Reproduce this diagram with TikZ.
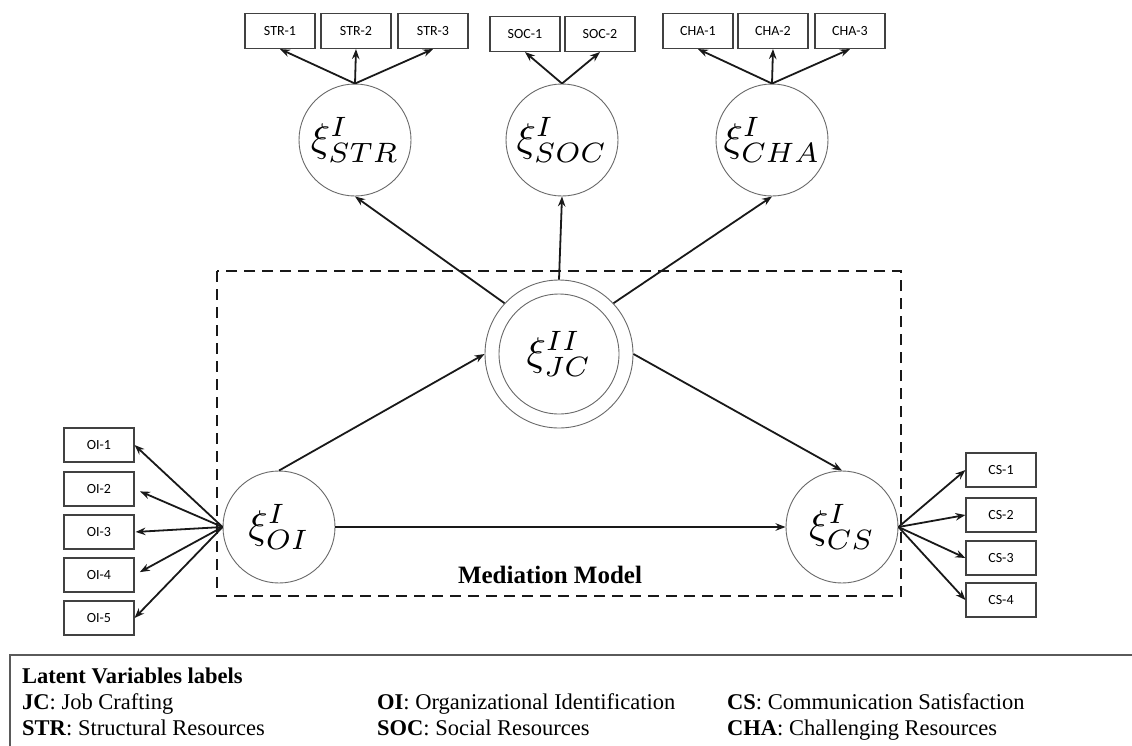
\documentclass[tikz,border=0pt]{standalone}
\usepackage{graphicx}
\usepackage{fontspec}
\setmainfont{Liberation Serif}
\newfontfamily\boxfont{Carlito}
\usetikzlibrary{arrows.meta,positioning}
\definecolor{linecolor}{RGB}{25,25,25}
\definecolor{circcolor}{RGB}{105,105,105}
\definecolor{boxcolor}{RGB}{65,65,65}
\definecolor{legcolor}{RGB}{90,90,90}
\newcommand{\latvar}[2]{\scalebox{4}{$\xi^{#1}_{#2}$}}

\begin{document}
\begin{tikzpicture}[x=1pt, y=-1pt, every node/.style={inner sep=0pt},
    indbox/.style={draw=boxcolor, line width=1.1pt, minimum width=70pt, minimum height=35pt, font=\boxfont\fontsize{14}{16}\selectfont},
    latent/.style={circle, draw=circcolor, line width=0.9pt, minimum size=112pt},
    load/.style={draw=linecolor, line width=1.8pt, -{Stealth[length=10pt,width=7.5pt]}},
    medbox/.style={draw=linecolor, line width=2.6pt, dash pattern=on 11pt off 7pt},
    legtext/.style={anchor=base west, font=\fontsize{22.5}{27}\selectfont}]
    \useasboundingbox (0,0) rectangle (1132,745);
    \clip (0,0) rectangle (1132,745);
    \fill[white] (0,0) rectangle (1132,745);
    % First-order constructs of job crafting (named for the loadings)
    \node[latent] (str) at (355,140) {\latvar{I}{STR}};
    \node[latent] (soc) at (562,140) {\latvar{I}{SOC}};
    \node[latent] (cha) at (772,140) {\latvar{I}{CHA}};
    \foreach \n/\x in {1/280, 2/356, 3/433} {
      \node[indbox] (str\n) at (\x,31) {STR-\n};
      \draw[load] (str.north) -- (str\n.south);
    }
    \foreach \n/\x in {1/525, 2/600} {
      \node[indbox] (soc\n) at (\x,34) {SOC-\n};
      \draw[load] (soc.north) -- (soc\n.south);
    }
    \foreach \n/\x in {1/698, 2/773, 3/850} {
      \node[indbox] (cha\n) at (\x,31) {CHA-\n};
      \draw[load] (cha.north) -- (cha\n.south);
    }
    % Second-order construct (double circle)
    \node[latent, minimum size=148pt] (jc) at (559,354) {};
    \node[latent, minimum size=120pt] (jcin) at (jc) {\latvar{II}{JC}};
    % Predictor and outcome with their indicators
    \node[latent] (oi) at (279,527) {\latvar{I}{OI}};
    \node[latent] (cs) at (842,527) {\latvar{I}{CS}};
    \foreach \n/\y/\g in {1/445/0, 2/489/6, 3/532/1, 4/575/6, 5/618/0} {
      \node[indbox, minimum height=34pt] (oi\n) at (99,\y) {OI-\n};
      \draw[load, shorten >=\g pt] (oi.west) -- (oi\n.east);
    }
    \foreach \n/\y in {1/470, 2/515, 3/558, 4/600} {
      \node[indbox, minimum height=34pt] (cs\n) at (1001,\y) {CS-\n};
      \draw[load] (cs.east) -- (cs\n.west);
    }
    % Structural paths
    \draw[load] (oi.north) -- (jc.west);
    \draw[load] (jc.east) -- (cs.north);
    \draw[load] (oi.east) -- (cs.west);
    \draw[load] (jc.137) -- (str.south);
    \draw[load] (jc.north) -- (soc.south);
    \draw[load] (jc.43) -- (cha.south);
    % Mediation model frame
    \draw[medbox] (217,271) rectangle (901,596);
    \node[font=\bfseries\fontsize{25}{30}\selectfont, anchor=base] (medlab) at (550,583) {Mediation Model};
    % Legend of latent variables
    \draw[draw=legcolor, line width=1.6pt] (10,655) rectangle (1150,760);
    \node[legtext] (leghead) at (22,683) {\textbf{Latent Variables labels}};
    \node[legtext] (legjc) at (22,709) {\textbf{JC}: Job Crafting};
    \node[legtext] (legoi) at (377,709) {\textbf{OI}: Organizational Identification};
    \node[legtext] (legcs) at (727,709) {\textbf{CS}: Communication Satisfaction};
    \node[legtext] (legstr) at (22,735) {\textbf{STR}: Structural Resources};
    \node[legtext] (legsoc) at (377,735) {\textbf{SOC}: Social Resources};
    \node[legtext] (legcha) at (727,735) {\textbf{CHA}: Challenging Resources};
\end{tikzpicture}
\end{document}
